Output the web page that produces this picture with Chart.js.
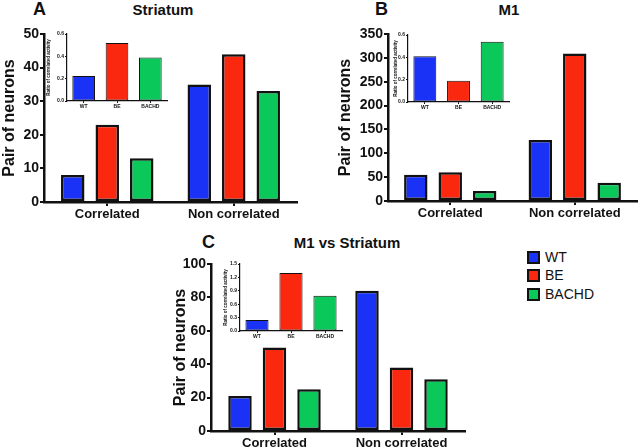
<!DOCTYPE html>
<html>
<head>
<meta charset="utf-8">
<script src="https://cdn.jsdelivr.net/npm/chart.js@4"></script>
<style>
body { margin: 0; background: #fff; width: 640px; height: 448px; overflow: hidden; position: relative; font-family: 'Liberation Sans', Arial, sans-serif; color: #111; }
canvas, .lbl { position: absolute; }
.letter { font-weight: bold; font-size: 18px; line-height: 1; }
.title { font-weight: bold; font-size: 15px; line-height: 1; transform: translateX(-50%); white-space: nowrap; }
.legrow { position: absolute; display: flex; align-items: center; font-size: 14px; line-height: 1; }
.legbox { width: 9px; height: 9px; border: 2px solid #111; margin-right: 5px; }
</style>
</head>
<body>

<div class="lbl letter" style="left:33px;top:0px">A</div>
<div class="lbl title" style="left:163px;top:2px">Striatum</div>
<div class="lbl letter" style="left:375px;top:0px">B</div>
<div class="lbl title" style="left:509px;top:2px">M1</div>
<div class="lbl letter" style="left:202px;top:233px">C</div>
<div class="lbl title" style="left:347px;top:235px">M1 vs Striatum</div>

<canvas id="chartA" width="310" height="225" style="left:0;top:0"></canvas>
<canvas id="chartB" width="320" height="225" style="left:320px;top:0"></canvas>
<canvas id="chartC" width="330" height="223" style="left:150px;top:225px"></canvas>
<canvas id="insetA" width="135" height="86" style="left:40px;top:28px"></canvas>
<canvas id="insetB" width="135" height="88" style="left:380px;top:28px"></canvas>
<canvas id="insetC" width="138" height="88" style="left:212px;top:257px"></canvas>

<div id="legend"></div>

<script>
const categories = ['Correlated', 'Non correlated'];
const groups = ['WT', 'BE', 'BACHD'];
const colors = ['#1932f5', '#fa280f', '#0ac85a'];

// pairs of neurons, [Correlated, Non correlated]
const striatumWT = [8, 35];
const striatumBE = [23, 44];
const striatumBACHD = [13, 33];

const m1WT = [55, 128];
const m1BE = [60, 309];
const m1BACHD = [21, 38];

const m1StrWT = [21, 84];
const m1StrBE = [50, 38];
const m1StrBACHD = [25, 31];

// inset: ratio of correlated activity, [WT, BE, BACHD]
const striatumRatio = [0.225, 0.52, 0.39];
const m1Ratio = [0.41, 0.19, 0.54];
const m1StrRatio = [0.245, 1.30, 0.79];

const fontFamily = "'Liberation Sans', Arial, sans-serif";
const narrowFamily = "'Liberation Sans Narrow', 'Liberation Sans', Arial, sans-serif";
const ink = '#111';

function mainChart(id, wt, be, bachd, yMax, yStep, box) {
    const values = [wt, be, bachd];
    new Chart(document.getElementById(id), {
        type: 'bar',
        data: {
            labels: categories,
            datasets: groups.map((g, i) => ({
                label: g,
                data: values[i],
                backgroundColor: colors[i],
                borderColor: ink,
                borderWidth: 2.5,
                borderSkipped: false,
                categoryPercentage: box.cat,
                barPercentage: 0.68
            }))
        },
        options: {
            responsive: false,
            animation: false,
            layout: { padding: { left: 0, right: box.right, top: box.top, bottom: 0 } },
            plugins: { legend: { display: false }, tooltip: { enabled: false } },
            scales: {
                x: {
                    grid: { offset: false, drawOnChartArea: false, color: ink, lineWidth: 2, tickLength: 4 },
                    border: { color: ink, width: 2.5 },
                    ticks: { color: ink, padding: 1, font: { family: fontFamily, size: 13, weight: 'bold' } },
                    afterFit: s => { s.height = box.xh; }
                },
                y: {
                    min: 0,
                    max: yMax,
                    ticks: { stepSize: yStep, color: ink, padding: 1, font: { family: fontFamily, size: 14, weight: 'bold' } },
                    grid: { drawOnChartArea: false, color: ink, lineWidth: 2, tickLength: 4 },
                    border: { color: ink, width: 2.5 },
                    title: {
                        display: true,
                        text: 'Pair of neurons',
                        color: ink,
                        font: { family: narrowFamily, size: 16, weight: 'bold' },
                        padding: { top: box.tpad, bottom: 0 }
                    },
                    afterFit: s => { s.width = box.yw; }
                }
            }
        }
    });
}

function insetChart(id, ratio, yMax, yStep, box) {
    new Chart(document.getElementById(id), {
        type: 'bar',
        data: {
            labels: groups,
            datasets: [{
                data: ratio,
                backgroundColor: colors,
                borderColor: ink,
                borderWidth: 1,
                borderSkipped: false,
                categoryPercentage: 1,
                barPercentage: 0.68
            }]
        },
        options: {
            responsive: false,
            animation: false,
            layout: { padding: { left: 0, right: box.right, top: box.top, bottom: 0 } },
            plugins: { legend: { display: false }, tooltip: { enabled: false } },
            scales: {
                x: {
                    grid: { offset: false, drawOnChartArea: false, color: ink, lineWidth: 1, tickLength: 2 },
                    border: { color: ink, width: 1.2 },
                    ticks: { color: ink, padding: 1, font: { family: fontFamily, size: 5, weight: 'bold' } },
                    afterFit: s => { s.height = box.xh; }
                },
                y: {
                    min: 0,
                    max: yMax,
                    ticks: {
                        stepSize: yStep,
                        color: ink,
                        padding: 1,
                        font: { family: fontFamily, size: 5, weight: 'bold' },
                        callback: v => v.toFixed(1)
                    },
                    grid: { drawOnChartArea: false, color: ink, lineWidth: 1, tickLength: 2 },
                    border: { color: ink, width: 1.2 },
                    title: {
                        display: true,
                        text: 'Ratio of correlated activity',
                        color: ink,
                        font: { family: fontFamily, size: 4.5, weight: 'bold' },
                        padding: { top: box.tpad, bottom: 0 }
                    },
                    afterFit: s => { s.width = box.yw; }
                }
            }
        }
    });
}

function buildLegend() {
    const legend = document.getElementById('legend');
    const rowTops = [250, 268, 287];
    groups.forEach((g, i) => {
        const row = document.createElement('div');
        row.className = 'legrow';
        row.style.left = '527px';
        row.style.top = rowTops[i] + 'px';
        row.innerHTML = '<div class="legbox" style="background:' + colors[i] + '"></div><span>' + g + '</span>';
        legend.appendChild(row);
    });
}

mainChart('chartA', striatumWT, striatumBE, striatumBACHD, 50, 10,
    { yw: 44, right: 13, top: 34, xh: 23, cat: 0.818, tpad: 0 });
mainChart('chartB', m1WT, m1BE, m1BACHD, 350, 50,
    { yw: 68, right: 3, top: 34, xh: 24, cat: 0.83, tpad: 16 });
mainChart('chartC', m1StrWT, m1StrBE, m1StrBACHD, 100, 20,
    { yw: 61, right: 15, top: 39, xh: 17, cat: 0.815, tpad: 21 });

insetChart('insetA', striatumRatio, 0.6, 0.2, { yw: 27, right: 8, top: 6, xh: 13, tpad: 6 });
insetChart('insetB', m1Ratio, 0.6, 0.2, { yw: 28, right: 6, top: 7, xh: 14, tpad: 13 });
insetChart('insetC', m1StrRatio, 1.5, 0.3, { yw: 28, right: 8, top: 7, xh: 14, tpad: 11 });

buildLegend();
</script>
</body>
</html>
